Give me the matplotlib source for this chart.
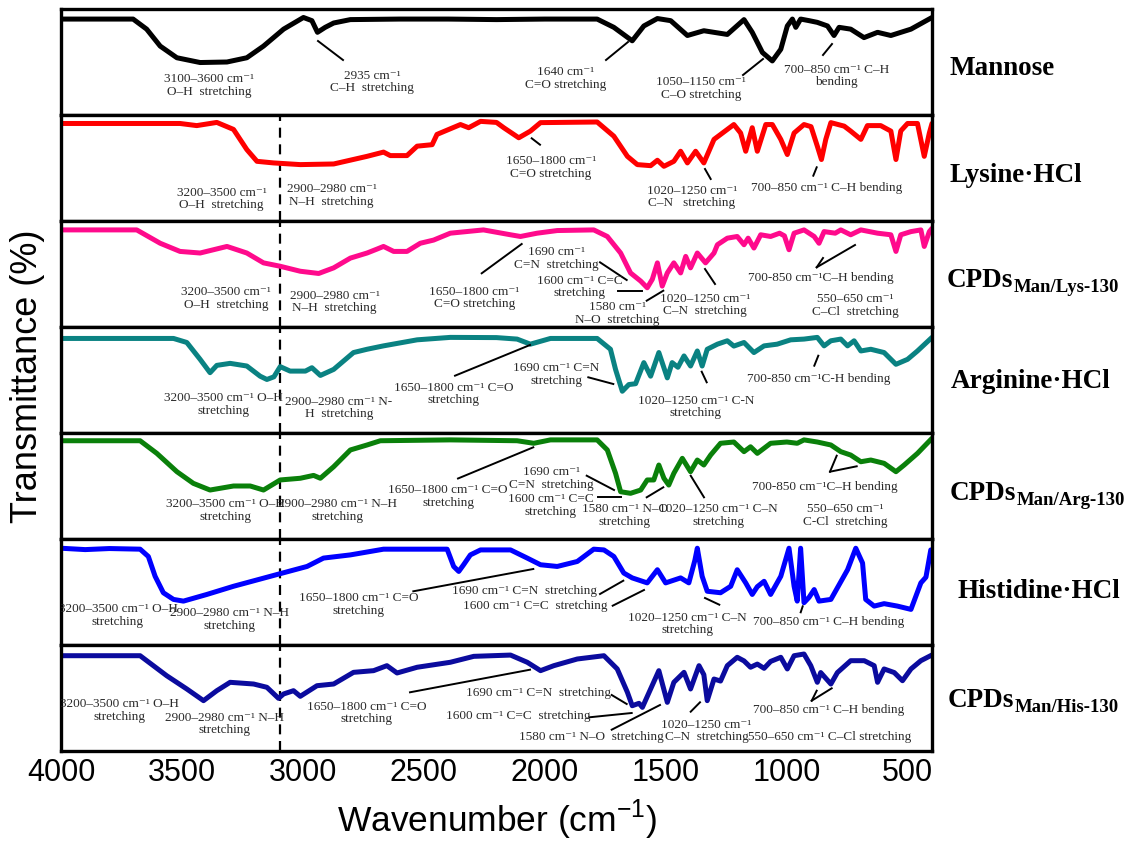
import matplotlib
matplotlib.use("Agg")
import matplotlib.pyplot as plt
from matplotlib.lines import Line2D

# ---------------- data (wavenumber cm-1, relative transmittance within each panel) -------------
mannose = [(4000, 90.5), (3702, 90.5), (3646, 81), (3590, 65), (3521, 54), (3425, 49.5), (3314, 50),
           (3232, 54), (3163, 65), (3080, 81), (2998, 92), (2963, 89), (2940, 78), (2908, 82.7),
           (2873, 86.8), (2804, 90), (2600, 90.5), (2400, 90.5), (2200, 90), (2000, 90.5), (1784, 90.5),
           (1715, 82.7), (1639, 70), (1591, 84), (1535, 91), (1480, 89), (1411, 75), (1343, 79.5),
           (1246, 76), (1177, 90), (1143, 78), (1101, 59), (1060, 51), (1025, 62), (998, 84), (977, 90.5),
           (963, 82.7), (943, 90.5), (908, 89), (874, 87.4), (832, 84), (805, 75), (784, 82.7), (736, 81),
           (681, 73), (625, 78), (570, 75), (487, 81), (400, 92)]

lysine = [(4000, 92), (3508, 92), (3439, 90), (3356, 93), (3287, 86.4), (3232, 67.4), (3190, 56.3),
          (3122, 54.8), (3011, 53.2), (2873, 53.8), (2735, 61), (2667, 65), (2639, 61.7), (2570, 61.7),
          (2528, 70.6), (2466, 72), (2446, 81.7), (2349, 91), (2315, 88), (2266, 94), (2200, 93),
          (2170, 88), (2108, 78.5), (2060, 84.8), (2018, 92.8), (1784, 93.4), (1715, 80), (1659, 61),
          (1618, 53.2), (1563, 52.2), (1535, 57.3), (1508, 51.6), (1467, 56.3), (1439, 65.8),
          (1411, 54.8), (1377, 65.8), (1343, 54.8), (1301, 77), (1246, 86.4), (1219, 91), (1191, 83),
          (1170, 65.8), (1143, 88), (1122, 65.8), (1087, 91), (1060, 91), (1025, 77), (998, 62.7),
          (970, 83), (929, 91), (900, 89), (874, 70.6), (857, 58), (839, 77), (818, 92.8), (763, 89.5),
          (736, 84.8), (694, 77), (667, 90), (612, 90), (570, 84.8), (549, 58), (529, 85), (501, 92),
          (460, 92), (432, 61), (411, 83), (400, 92)]

cpds_lys = [(4000, 91.6), (3687, 91.6), (3590, 79), (3508, 71.3), (3425, 69.8), (3314, 76), (3232, 69.8),
            (3163, 60.5), (3094, 57.3), (3011, 52.6), (2935, 50.5), (2873, 55.8), (2804, 65), (2735, 69.8),
            (2694, 73.5), (2667, 76), (2625, 71.3), (2570, 71.3), (2515, 79), (2460, 82), (2391, 88.5),
            (2254, 91.6), (2142, 87), (2101, 85.4), (2032, 88.5), (1949, 91), (1798, 91.6), (1742, 85.4),
            (1687, 69.8), (1646, 51), (1604, 43.3), (1577, 37), (1556, 45), (1535, 60.5), (1515, 38.6),
            (1494, 51), (1467, 60.5), (1439, 51), (1418, 66.6), (1398, 55.8), (1370, 69.8), (1336, 60.5),
            (1301, 69.8), (1287, 77.6), (1246, 83.8), (1205, 85.4), (1177, 77.6), (1160, 83.8),
            (1136, 74.5), (1108, 87), (1067, 85.4), (1030, 88.5), (1010, 86), (991, 72.9), (970, 88.5),
            (929, 91.6), (887, 85.4), (867, 79), (846, 90), (800, 88.5), (777, 91.6), (736, 87),
            (694, 91.6), (625, 88.5), (570, 87), (549, 71.3), (529, 87), (487, 90), (446, 91.6),
            (432, 76), (411, 90), (400, 93)]

arginine = [(4000, 89.2), (3535, 89.2), (3480, 85.4), (3425, 69.5), (3384, 56.9), (3356, 63.8),
            (3301, 65.7), (3232, 63.2), (3177, 53.6), (3149, 50.5), (3120, 53), (3094, 62.6), (3053, 58.4),
            (2990, 58.4), (2963, 61.6), (2928, 54.3), (2873, 60), (2791, 75.9), (2735, 79), (2667, 82.2),
            (2528, 87.9), (2391, 90.2), (2200, 90), (2115, 88.6), (2060, 83.8), (1977, 89.2), (1784, 89.2),
            (1729, 79), (1708, 60), (1680, 39.4), (1653, 45.7), (1625, 46.5), (1591, 66.4), (1563, 53.6),
            (1529, 75.9), (1494, 52), (1474, 66.4), (1450, 62), (1425, 72.7), (1398, 63.2), (1370, 77.4),
            (1350, 63.2), (1329, 79), (1287, 83.8), (1246, 87), (1219, 82), (1177, 85.4), (1136, 75.9),
            (1094, 82.2), (1040, 83.8), (984, 87.9), (929, 88.6), (874, 90.2), (846, 82.2), (818, 87),
            (777, 88.6), (749, 82.2), (722, 87), (694, 77.4), (653, 79), (598, 75.9), (549, 64.8),
            (501, 69.5), (460, 77.4), (400, 90.2)]

cpds_arg = [(4000, 92.7), (3673, 92.7), (3604, 80.8), (3521, 63.5), (3453, 52.5), (3384, 46.2),
            (3287, 50), (3218, 50), (3163, 46.2), (3094, 55.7), (3011, 57.3), (2956, 60), (2928, 57.3),
            (2873, 68.2), (2804, 84), (2735, 88.7), (2680, 92.7), (2391, 93.5), (2115, 92.7), (2046, 90.3),
            (1977, 93.5), (1784, 93.5), (1742, 84), (1708, 62), (1687, 44.6), (1646, 43.1), (1604, 46.2),
            (1577, 55.7), (1550, 55.7), (1529, 69.8), (1508, 57.3), (1488, 50.9), (1467, 62), (1432, 76.1),
            (1398, 63.5), (1370, 74.5), (1343, 69.8), (1315, 79.2), (1274, 90.3), (1219, 91.5),
            (1177, 82.4), (1150, 87), (1122, 80.8), (1067, 90.3), (1000, 91.5), (957, 90.3), (929, 93.5),
            (874, 91.5), (818, 88.7), (777, 82.4), (736, 79.2), (694, 72.9), (653, 74.5), (598, 71.4),
            (549, 63.5), (515, 69.8), (460, 80.8), (400, 95)]

histidine = [(4000, 91.3), (3900, 90), (3800, 91), (3673, 90.4), (3639, 83.5), (3611, 64.8), (3577, 49.3),
             (3535, 43), (3494, 41.4), (3397, 47.7), (3287, 55.4), (3094, 67.3), (2983, 74.1), (2915, 82),
             (2804, 85), (2667, 90.4), (2404, 90.4), (2377, 74.1), (2356, 69.4), (2336, 75.7), (2308, 85),
             (2266, 89.7), (2142, 89.7), (2073, 82), (2018, 75.7), (1949, 74.1), (1866, 78.8), (1798, 90.4),
             (1756, 89.7), (1715, 83.5), (1674, 67.9), (1639, 63.3), (1577, 58.6), (1535, 71), (1501, 58.6),
             (1439, 63.3), (1405, 58.6), (1380, 80), (1370, 91.3), (1350, 64.8), (1329, 50.7), (1274, 49.3),
             (1232, 55.4), (1205, 71), (1170, 58.6), (1143, 47.7), (1122, 55), (1094, 60.1), (1067, 47.7),
             (1025, 64.8), (991, 91.3), (970, 55.4), (957, 41.4), (943, 91.3), (929, 39.9), (908, 45),
             (887, 52.3), (867, 41.4), (818, 43), (749, 71), (715, 91.3), (687, 77.3), (674, 43),
             (639, 36.7), (598, 39), (543, 36.7), (487, 33.6), (446, 58.6), (425, 64), (405, 89.7)]

cpds_his = [(4000, 89.9), (3673, 89.9), (3563, 71), (3480, 58.5), (3411, 47.5), (3356, 56.9), (3301, 64.8),
            (3204, 63.2), (3149, 60.1), (3101, 49.7), (3080, 53.8), (3039, 56.9), (3011, 51.6), (2942, 61.6),
            (2873, 63.2), (2791, 74.2), (2708, 75.8), (2653, 80.5), (2611, 73.6), (2528, 79), (2391, 83.7),
            (2294, 89.3), (2142, 90.5), (2073, 83.7), (2018, 75.8), (1963, 80.5), (1866, 86.8), (1756, 89.9),
            (1701, 77.4), (1659, 55.4), (1639, 42.7), (1611, 45), (1597, 41.2), (1563, 58.5), (1529, 75.8),
            (1494, 45.9), (1467, 64.8), (1425, 74.2), (1398, 58.5), (1363, 80.5), (1343, 72), (1329, 47.5),
            (1301, 67.9), (1274, 66), (1246, 80.5), (1205, 88.4), (1177, 85), (1150, 79), (1122, 82),
            (1094, 78), (1067, 84.5), (1025, 88.4), (998, 77.4), (970, 89.9), (929, 91.5), (901, 80.5),
            (874, 64.8), (860, 74), (818, 63.2), (791, 74), (736, 85.2), (680, 85.2), (639, 80.5),
            (625, 64.8), (598, 77.4), (556, 74), (522, 66.3), (487, 77.4), (446, 85.2), (400, 90.6)]

series = [mannose, lysine, cpds_lys, arginine, cpds_arg, histidine, cpds_his]
colors = ["#000000", "#FF0000", "#FF0A8C", "#0A8282", "#0A800A", "#0000FF", "#0B0B9E"]
names = [("Mannose", None), ("Lysine\u00b7HCl", None), ("CPDs", "Man/Lys-130"),
         ("Arginine\u00b7HCl", None), ("CPDs", "Man/Arg-130"), ("Histidine\u00b7HCl", None),
         ("CPDs", "Man/His-130")]
xticks = [4000, 3500, 3000, 2500, 2000, 1500, 1000, 500]
dashed_wn = 3095

# ---------------- layout (reference pixel geometry) ----------------
W, H = 1129, 845
fig = plt.figure(figsize=(W / 100, H / 100), dpi=100)
L_PX, R_PX, T_PX, B_PX = 61, 932, 10, 752
PH = (B_PX - T_PX) / 7


def F(x, y):
    return (x / W, 1 - y / H)


axes = []
for i, (data, col) in enumerate(zip(series, colors)):
    top = T_PX + i * PH
    ax = fig.add_axes([L_PX / W, 1 - (top + PH) / H, (R_PX - L_PX) / W, PH / H])
    wn = [p[0] for p in data]
    tr = [p[1] for p in data]
    ax.plot(wn, tr, color=col, lw=3.6, solid_joinstyle="round", solid_capstyle="round")
    ax.set_xlim(4000, 400)
    ax.set_ylim(0, 100)
    ax.set_yticks([])
    ax.set_xticks(xticks)
    ax.tick_params(axis="x", length=0, pad=4, labelsize=22)
    if i < 6:
        ax.set_xticklabels([])
    else:
        ax.set_xticklabels([str(t) for t in xticks], family="Liberation Sans")
    for s in ax.spines.values():
        s.set_linewidth(2.4)
        s.set_color("black")
    if i >= 1:
        ax.axvline(dashed_wn, color="black", lw=1.6, ls=(0, (4.5, 3)), zorder=1)
    axes.append(ax)

# right-side labels
label_pos = [(949, 75), (949, 181.7), (947, 286.7), (951, 388.3), (950, 500), (957, 598.3), (948, 706.7)]
for (main, sub), (x, y) in zip(names, label_pos):
    t = fig.text(*F(x, y), main, family="Liberation Serif", weight="bold", fontsize=19.5,
                 va="baseline", ha="left")
    if sub:
        axes[0].annotate(sub, xy=(1, 0), xycoords=t, xytext=(0.5, 0.5), textcoords="offset points",
                         family="Liberation Serif", weight="bold", fontsize=13.5,
                         va="baseline", ha="left", annotation_clip=False)

# axis titles
fig.text(*F(28, 376), "Transmittance (%)", rotation=90, family="Liberation Sans", fontsize=26,
         ha="center", va="center")
fig.text(*F(497, 832), "Wavenumber (cm$^{\\mathregular{-1}}$)", family="Liberation Sans",
         fontsize=25.5, ha="center", va="baseline")

# ---------------- band annotations (reference pixel positions) ----------------
notes = [
    ("3100\u20133600 cm\u207b\u00b9\nO\u2013H  stretching", 209, 85.5),
    ("2935 cm\u207b\u00b9\nC\u2013H  stretching", 372, 82),
    ("1640 cm\u207b\u00b9\nC=O stretching", 566, 78.5),
    ("1050\u20131150 cm\u207b\u00b9\nC\u2013O stretching", 700.7, 88.5),
    ("700\u2013850 cm\u207b\u00b9 C\u2013H\nbending", 836.7, 76),

    ("3200\u20133500 cm\u207b\u00b9\nO\u2013H  stretching", 221.7, 199.2),
    ("2900\u20132980 cm\u207b\u00b9\nN\u2013H  stretching", 331.7, 195.5),
    ("1650\u20131800 cm\u207b\u00b9\nC=O stretching", 550.7, 167.5),
    ("1020\u20131250 cm\u207b\u00b9\nC\u2013N   stretching", 692, 197.2),
    ("700\u2013850 cm\u207b\u00b9 C\u2013H bending", 826.3, 188.3),

    ("3200\u20133500 cm\u207b\u00b9\nO\u2013H  stretching", 225.8, 298.5),
    ("2900\u20132980 cm\u207b\u00b9\nN\u2013H  stretching", 334.7, 302.2),
    ("1650\u20131800 cm\u207b\u00b9\nC=O stretching", 474.5, 298),
    ("1690 cm\u207b\u00b9\nC=N  stretching", 556.8, 258.3),
    ("1600 cm\u207b\u00b9 C=C\nstretching", 580, 287),
    ("1580 cm\u207b\u00b9\nN\u2013O  stretching", 617.4, 313.7),
    ("1020\u20131250 cm\u207b\u00b9\nC\u2013N  stretching", 705, 305),
    ("700-850 cm\u207b\u00b9C\u2013H bending", 820.5, 277.7),
    ("550\u2013650 cm\u207b\u00b9\nC\u2013Cl  stretching", 855.4, 305.5),

    ("3200\u20133500 cm\u207b\u00b9 O\u2013H\nstretching", 223, 404.5),
    ("2900\u20132980 cm\u207b\u00b9 N-\nH  stretching", 338.8, 407.8),
    ("1650\u20131800 cm\u207b\u00b9 C=O\nstretching", 454, 394.2),
    ("1690 cm\u207b\u00b9 C=N\nstretching", 556.5, 374.5),
    ("1020\u20131250 cm\u207b\u00b9 C-N\nstretching", 696, 407.2),
    ("700-850 cm\u207b\u00b9C-H bending", 818.8, 379),

    ("3200\u20133500 cm\u207b\u00b9 O\u2013H\nstretching", 225.7, 510.5),
    ("2900\u20132980 cm\u207b\u00b9 N\u2013H\nstretching", 337, 510.5),
    ("1650\u20131800 cm\u207b\u00b9 C=O\nstretching", 448.2, 496.3),
    ("1690 cm\u207b\u00b9\nC=N  stretching", 551.7, 478.3),
    ("1600 cm\u207b\u00b9 C=C\nstretching", 550.7, 505.5),
    ("1580 cm\u207b\u00b9 N\u2013O\nstretching", 624.8, 515.5),
    ("1020\u20131250 cm\u207b\u00b9 C\u2013N\nstretching", 718.5, 515.5),
    ("700-850 cm\u207b\u00b9C\u2013H bending", 825.3, 486.7),
    ("550\u2013650 cm\u207b\u00b9\nC-Cl  stretching", 845.7, 515.5),

    ("3200\u20133500 cm\u207b\u00b9 O\u2013H\nstretching", 118, 615.5),
    ("2900\u20132980 cm\u207b\u00b9 N\u2013H\nstretching", 229, 619.7),
    ("1650\u20131800 cm\u207b\u00b9 C=O\nstretching", 358.5, 604.3),
    ("1690 cm\u207b\u00b9 C=N  stretching", 525, 591),
    ("1600 cm\u207b\u00b9 C=C  stretching", 535.5, 605.7),
    ("1020\u20131250 cm\u207b\u00b9 C\u2013N\nstretching", 687, 623.8),
    ("700\u2013850 cm\u207b\u00b9 C\u2013H bending", 828.3, 621.7),

    ("3200\u20133500 cm\u207b\u00b9 O\u2013H\nstretching", 119, 710.5),
    ("2900\u20132980 cm\u207b\u00b9 N\u2013H\nstretching", 224.5, 723.8),
    ("1650\u20131800 cm\u207b\u00b9 C=O\nstretching", 366.5, 713),
    ("1690 cm\u207b\u00b9 C=N  stretching", 538.3, 693.3),
    ("1600 cm\u207b\u00b9 C=C  stretching", 518.3, 716),
    ("1580 cm\u207b\u00b9 N\u2013O  stretching", 591.2, 737.3),
    ("1020\u20131250 cm\u207b\u00b9\nC\u2013N  stretching", 706.5, 730.8),
    ("700\u2013850 cm\u207b\u00b9 C\u2013H bending", 828.8, 710),
    ("550\u2013650 cm\u207b\u00b9 C\u2013Cl stretching", 829.7, 736.7),
]

leaders = [
    (318, 42, 343, 61), (606, 61, 628, 43), (743, 76, 763, 60), (823, 56, 832, 45),
    (531.7, 139.3, 540, 145.7), (705, 170, 710.7, 180), (813.3, 176.7, 816.7, 168.3),
    (481.7, 274.3, 521.7, 245), (600, 263.3, 626.7, 281), (618.3, 291.7, 641.7, 291.7),
    (646.7, 301.7, 663.3, 291.7), (705, 270, 715, 285), (816.7, 268.3, 855, 246),
    (816.7, 268.3, 823, 259),
    (455, 376.7, 530, 346), (588.3, 378.3, 613.3, 385), (701.7, 372.7, 706.7, 383.3),
    (814.3, 366.7, 818.3, 356.7),
    (458, 479.5, 533.3, 448.3), (586.7, 476.7, 614, 491), (598.3, 497.7, 620.7, 497.7),
    (646.7, 498.3, 663.3, 488.3), (704, 498.3, 690.7, 476.7), (830, 472.7, 836.7, 456.7),
    (830, 472.7, 856.7, 467.3),
    (413.3, 592.3, 533.3, 570), (600, 595, 623.3, 581.7), (612.7, 606.7, 644, 591),
    (705, 599, 719.3, 605.7), (800.7, 613.3, 802.7, 607.3),
    (410, 693.3, 530, 670.7), (611.7, 696, 626.7, 705), (589.3, 718.3, 631.7, 714),
    (611.7, 730.7, 660, 706), (690.7, 712.7, 700, 703.3), (811.7, 701.7, 816.7, 691.7),
    (811.7, 701.7, 831.7, 689.3),
]

for s, x, y in notes:
    idx = min(6, int((y - T_PX) // PH))
    fig.text(*F(x, y), s, family=["Liberation Serif", "DejaVu Serif"], fontsize=9.5,
             color="#2a2a2a", ha="center", va="center", linespacing=1.05,
             clip_on=True, clip_box=axes[idx].bbox)

for x1, y1, x2, y2 in leaders:
    (a, b), (c, d) = F(x1, y1), F(x2, y2)
    fig.add_artist(Line2D([a, c], [b, d], transform=fig.transFigure, color="black", lw=1.4))

fig.savefig("out.png", dpi=100)
